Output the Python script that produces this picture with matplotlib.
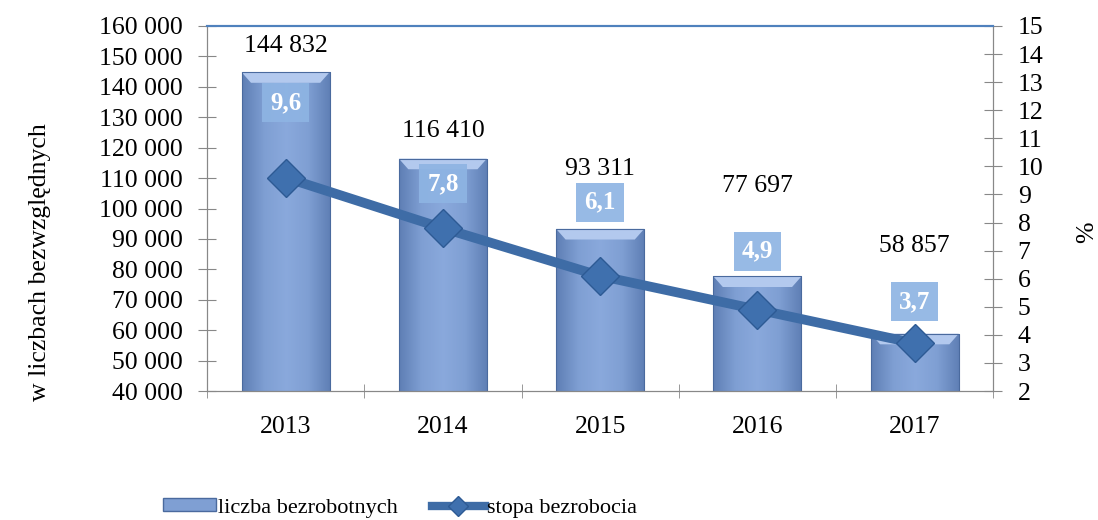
import numpy as np
import matplotlib
matplotlib.use('Agg')
import matplotlib.pyplot as plt
from matplotlib.patches import Rectangle, Polygon
from matplotlib.lines import Line2D
from matplotlib.colors import LinearSegmentedColormap

plt.rcParams['font.family'] = ['Liberation Serif', 'DejaVu Serif']

# data
years = ['2013', '2014', '2015', '2016', '2017']
unemployed = [144832, 116410, 93311, 77697, 58857]
rate = [9.6, 7.8, 6.1, 4.9, 3.7]
unemployed_labels = ['144 832', '116 410', '93 311', '77 697', '58 857']
rate_labels = ['9,6', '7,8', '6,1', '4,9', '3,7']

# label offsets in points (as placed in the original)
bar_lab_off = [19, 20, 43, 65, 63]
rate_lab_off = [54, 32, 53, 42, 30]

left_ticks = list(range(40000, 160001, 10000))
right_ticks = list(range(2, 16))


def fmt_thousands(v):
    return '{:,}'.format(v).replace(',', ' ')


fig = plt.figure(figsize=(10.98, 5.2), dpi=100)
ax = fig.add_axes([0.1885, 0.248, 0.7162, 0.702])
ax2 = ax.twinx()

x = np.arange(len(years))
bw = 0.56
bars = ax.bar(x, unemployed, width=bw, color='none', edgecolor='#4a6a9e',
              linewidth=0.8, zorder=2)

# gradient fill for bars (bevel-ish look)
cmap = LinearSegmentedColormap.from_list('barg', ['#5f7fb5', '#7f9fd3', '#8aa9dc', '#7f9fd3', '#5f7fb5'])
hgrad = np.linspace(0, 1, 64)[None, :]
for b in bars:
    x0, y0 = b.get_x(), 40000
    x1, y1 = x0 + b.get_width(), b.get_height()
    im = ax.imshow(np.repeat(hgrad, 2, axis=0), cmap=cmap, aspect='auto',
                   extent=[x0, x1, y0, y1], zorder=1.5, origin='lower')
    im.set_clip_path(b)
    # light bevel on top
    dx = 0.06
    dy = 3500
    ax.add_patch(Polygon([(x0, y1), (x1, y1), (x1 - dx, y1 - dy), (x0 + dx, y1 - dy)],
                         closed=True, facecolor='#b3c9ee', edgecolor='none', zorder=1.7))

ax.set_xlim(-0.5, len(years) - 0.5)
ax.set_ylim(40000, 160000)
ax.set_yticks(left_ticks)
ax.set_yticklabels([fmt_thousands(v) for v in left_ticks], fontsize=18.5)
ax.set_xticks(x)
ax.set_xticklabels(years, fontsize=18.5)
ax.set_xticks(np.arange(-0.5, len(years)), minor=True)
ax.tick_params(axis='x', which='major', length=0, pad=18)
ax.tick_params(axis='x', which='minor', length=10, direction='inout', color='#888888')
ax.tick_params(axis='y', length=13, direction='inout', color='#888888', pad=11)

for i, v in enumerate(unemployed):
    ax.annotate(unemployed_labels[i], (x[i], v), xytext=(0, bar_lab_off[i]),
                textcoords='offset points', ha='center', va='center', fontsize=18.5)

ax2.plot(x, rate, color='#3e6ca6', linewidth=7, marker='D', markersize=19,
         markerfacecolor='#3f70ae', markeredgecolor='#2d5a94', markeredgewidth=1, zorder=3)
ax2.set_ylim(2, 15)
ax2.set_yticks(right_ticks)
ax2.set_yticklabels([str(v) for v in right_ticks], fontsize=18.5)
ax2.tick_params(axis='y', length=13, direction='inout', color='#888888', pad=11)

for i, v in enumerate(rate):
    ax2.annotate(rate_labels[i], (x[i], v), xytext=(0, rate_lab_off[i]),
                 textcoords='offset points', ha='center', va='center', fontsize=18,
                 fontweight='bold', color='white',
                 bbox=dict(boxstyle='square,pad=0.32', facecolor='#8eb4e3',
                           edgecolor='none', alpha=0.92))

for a in (ax, ax2):
    for s in ('left', 'right', 'bottom'):
        a.spines[s].set_color('#888888')
    a.spines['top'].set_color('#4f81bd')
    a.spines['top'].set_linewidth(1.5)

fig.text(40 / 1098, 1 - 262 / 520, 'w liczbach bezwzględnych', rotation=90,
         ha='center', va='center', fontsize=18.5)
fig.text(1087 / 1098, 1 - 232 / 520, '%', rotation=90,
         ha='center', va='center', fontsize=18.5)

handles = [Rectangle((0, 0), 1, 1, facecolor='#7f9fd3', edgecolor='#4a6a9e'),
           Line2D([], [], color='#3e6ca6', linewidth=6, marker='D', markersize=10,
                  markerfacecolor='#3f70ae', markeredgecolor='#2d5a94')]
fig.legend(handles, ['liczba bezrobotnych', 'stopa bezrobocia'], loc='center',
           bbox_to_anchor=(400 / 1098, 1 - 508 / 520), ncol=2, frameon=False, fontsize=16,
           handlelength=2.4, handleheight=0.5, handletextpad=0.1, columnspacing=1.5)

fig.savefig('out.png', dpi=100)
